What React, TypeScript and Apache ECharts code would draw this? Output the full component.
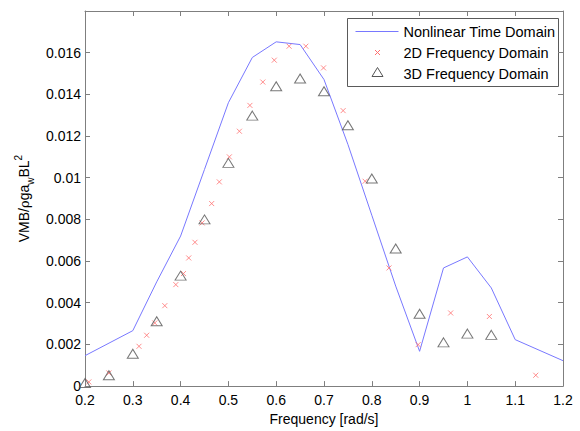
import { useEffect, useRef } from 'react';
import * as echarts from 'echarts';

const lineFreq = [0.2, 0.3, 0.35, 0.4, 0.45, 0.5, 0.55, 0.6, 0.65, 0.7, 0.75, 0.8, 0.85, 0.9, 0.95, 1.0, 1.05, 1.1, 1.2];
const lineVmb = [0.00146, 0.00266, 0.005, 0.0072, 0.0104, 0.0136, 0.01577, 0.01652, 0.01639, 0.01471, 0.0116, 0.0082, 0.0048, 0.00167, 0.00567, 0.0062, 0.00471, 0.00223, 0.00122];

const freq2D = [0.208, 0.25, 0.313, 0.329, 0.346, 0.367, 0.39, 0.406, 0.417, 0.43, 0.445, 0.465, 0.481, 0.502, 0.523, 0.545, 0.572, 0.596, 0.627, 0.662, 0.699, 0.74, 0.786, 0.836, 0.897, 0.965, 1.046, 1.143];
const vmb2D = [0.0002, 0.00063, 0.00191, 0.00244, 0.00303, 0.00386, 0.00487, 0.0054, 0.00615, 0.0069, 0.00783, 0.00876, 0.0098, 0.011, 0.01223, 0.01347, 0.01459, 0.01564, 0.01631, 0.01631, 0.01527, 0.01322, 0.00983, 0.00567, 0.00199, 0.00351, 0.00334, 0.00052];

const freq3D = [0.2, 0.25, 0.3, 0.35, 0.4, 0.45, 0.5, 0.55, 0.6, 0.65, 0.7, 0.75, 0.8, 0.85, 0.9, 0.95, 1.0, 1.05];
const vmb3D = [0.00015, 0.00052, 0.00155, 0.00311, 0.0053, 0.008, 0.01071, 0.01298, 0.01439, 0.01476, 0.01415, 0.01252, 0.00996, 0.0066, 0.00347, 0.0021, 0.00252, 0.00246];

const legendLabels = ['Nonlinear Time Domain', '2D Frequency Domain', '3D Frequency Domain'];

const FONT = '"Liberation Sans", Arial, sans-serif';
const AXIS_GRAY = '#7f7f7f';
const LINE_BLUE = '#7878ff';
const CROSS_RED = '#ff7070';
const TRI_GRAY = '#555555';

export default function App() {
  const ref = useRef<HTMLDivElement>(null);
  useEffect(() => {
    if (!ref.current) return;
    const chart = echarts.init(ref.current, undefined, { renderer: 'svg' });
    const xCommon = {
      type: 'value' as const,
      min: 0.2,
      max: 1.2,
      interval: 0.1,
      splitLine: { show: false },
      axisLine: { show: true, onZero: false, lineStyle: { color: AXIS_GRAY, width: 1 } },
      axisTick: { show: true, inside: true, length: 5, lineStyle: { color: AXIS_GRAY } },
    };
    const yCommon = {
      type: 'value' as const,
      min: 0,
      max: 0.018,
      interval: 0.002,
      splitLine: { show: false },
      axisLine: { show: true, onZero: false, lineStyle: { color: AXIS_GRAY, width: 1 } },
      axisTick: { show: true, inside: true, length: 5, lineStyle: { color: AXIS_GRAY } },
    };
    const lx = 347, ly = 18;
    const legendFont = 14.5;
    chart.setOption({
      animation: false,
      backgroundColor: '#ffffff',
      grid: { left: 85, top: 11, width: 478, height: 376 },
      xAxis: [
        {
          ...xCommon,
          position: 'bottom',
          name: 'Frequency [rad/s]',
          nameLocation: 'middle',
          nameGap: 24,
          nameTextStyle: { fontFamily: FONT, fontSize: 14, color: '#000' },
          axisLabel: {
            margin: 7,
            fontFamily: FONT,
            fontSize: 14,
            lineHeight: 14,
            color: '#000',
            formatter: (v: number) => String(parseFloat(v.toFixed(1))),
          },
        },
        { ...xCommon, position: 'top', axisLabel: { show: false } },
      ],
      yAxis: [
        {
          ...yCommon,
          position: 'left',
          name: '{a|VMB/}{r|ρ}{a|ga}{s|w}{a|BL}{p|2}',
          nameLocation: 'middle',
          nameGap: 48,
          nameTextStyle: {
            rich: {
              a: { fontFamily: FONT, fontSize: 14, color: '#000', lineHeight: 22, verticalAlign: 'middle' },
              r: { fontFamily: 'DejaVu Serif', fontSize: 13, color: '#000', verticalAlign: 'middle' },
              s: { fontFamily: FONT, fontSize: 10, color: '#000', verticalAlign: 'bottom' },
              p: { fontFamily: FONT, fontSize: 10, color: '#000', verticalAlign: 'top' },
            },
          },
          axisLabel: {
            margin: 4,
            fontFamily: FONT,
            fontSize: 14,
            lineHeight: 11,
            color: '#000',
            formatter: (v: number) => (v > 0.017 ? '' : String(parseFloat(v.toFixed(3)))),
          },
        },
        { ...yCommon, position: 'right', axisLabel: { show: false } },
      ],
      series: [
        {
          name: legendLabels[0],
          type: 'line',
          data: lineFreq.map((f, i) => [f, lineVmb[i]]),
          symbol: 'none',
          lineStyle: { color: LINE_BLUE, width: 1 },
          z: 2,
        },
        {
          name: legendLabels[1],
          type: 'scatter',
          data: freq2D.map((f, i) => [f, vmb2D[i]]),
          symbol: 'path://M0,0L10,10M10,0L0,10',
          symbolSize: 5,
          itemStyle: { color: 'none', borderColor: CROSS_RED, borderWidth: 1 },
          z: 3,
        },
        {
          name: legendLabels[2],
          type: 'scatter',
          data: freq3D.map((f, i) => [f, vmb3D[i]]),
          symbol: 'triangle',
          symbolSize: [11, 9],
          itemStyle: { color: 'none', borderColor: TRI_GRAY, borderWidth: 1 },
          z: 4,
        },
      ],
      graphic: [
        {
          type: 'group',
          left: lx,
          top: ly,
          children: [
            { type: 'rect', shape: { x: 0, y: 0, width: 211, height: 68 }, style: { fill: '#fff', stroke: '#5a5a5a', lineWidth: 1 } },
            { type: 'line', shape: { x1: 8, y1: 13, x2: 51, y2: 13 }, style: { stroke: LINE_BLUE, lineWidth: 1 } },
            { type: 'line', shape: { x1: 27.5, y1: 31.5, x2: 32.5, y2: 36.5 }, style: { stroke: CROSS_RED, lineWidth: 1 } },
            { type: 'line', shape: { x1: 32.5, y1: 31.5, x2: 27.5, y2: 36.5 }, style: { stroke: CROSS_RED, lineWidth: 1 } },
            { type: 'polygon', shape: { points: [[30, 49], [35.5, 58], [24.5, 58]] }, style: { fill: 'none', stroke: TRI_GRAY, lineWidth: 1 } },
            { type: 'text', x: 56, y: 13, style: { text: legendLabels[0], fontFamily: FONT, fontSize: legendFont, fill: '#000', verticalAlign: 'middle' } },
            { type: 'text', x: 56, y: 34, style: { text: legendLabels[1], fontFamily: FONT, fontSize: legendFont, fill: '#000', verticalAlign: 'middle' } },
            { type: 'text', x: 56, y: 55, style: { text: legendLabels[2], fontFamily: FONT, fontSize: legendFont, fill: '#000', verticalAlign: 'middle' } },
          ],
        },
      ],
    });
    return () => chart.dispose();
  }, []);
  return <div ref={ref} style={{ position: 'fixed', left: 0, top: 0, width: 580, height: 431 }} />;
}
